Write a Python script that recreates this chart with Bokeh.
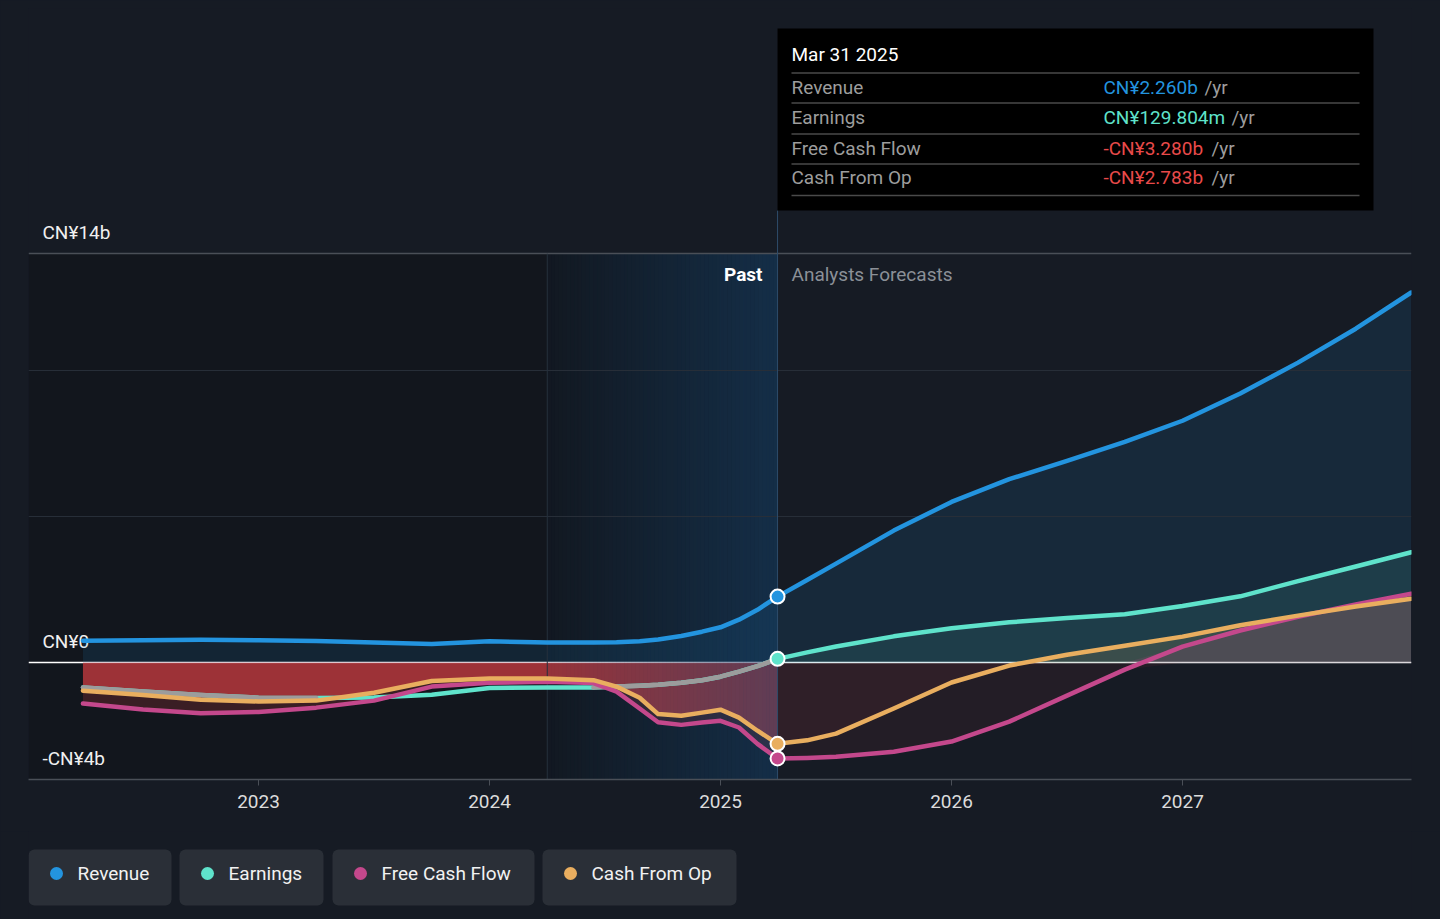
import numpy as np
from bokeh.plotting import figure
from bokeh.models import Range1d, FixedTicker, BoxAnnotation
from bokeh.layouts import column
from bokeh.embed import file_html
from bokeh.resources import INLINE
from bokeh.core.properties import value

# ---------------- data (CN¥ billions, x in decimal years) ----------------
X_PAST = [2022.24, 2022.5, 2022.75, 2023.0, 2023.25, 2023.5, 2023.75, 2024.0, 2024.25,
          2024.45, 2024.55, 2024.65, 2024.73, 2024.83, 2024.92, 2025.0, 2025.08, 2025.16, 2025.247]
REVENUE_PAST = [0.75, 0.77, 0.78, 0.77, 0.74, 0.69, 0.64, 0.73, 0.69,
                0.69, 0.70, 0.73, 0.79, 0.91, 1.06, 1.21, 1.47, 1.81, 2.26]
EARNINGS_PAST = [-0.85, -0.99, -1.11, -1.20, -1.21, -1.19, -1.10, -0.87, -0.85,
                 -0.85, -0.82, -0.79, -0.76, -0.69, -0.60, -0.48, -0.31, -0.12, 0.13]
FCF_PAST = [-1.40, -1.60, -1.73, -1.69, -1.54, -1.30, -0.82, -0.69, -0.65,
            -0.70, -0.99, -1.57, -2.04, -2.13, -2.05, -1.99, -2.22, -2.78, -3.28]
CFO_PAST = [-0.96, -1.11, -1.27, -1.33, -1.30, -1.03, -0.63, -0.54, -0.54,
            -0.60, -0.82, -1.20, -1.76, -1.82, -1.71, -1.61, -1.88, -2.33, -2.78]

X_FORECAST = [2025.247, 2025.375, 2025.5, 2025.75, 2026.0, 2026.25, 2026.5, 2026.75, 2027.0,
              2027.25, 2027.5, 2027.75, 2027.99]
REVENUE_FC = [2.26, 2.83, 3.39, 4.52, 5.50, 6.28, 6.91, 7.56, 8.28, 9.21, 10.27, 11.43, 12.67]
EARNINGS_FC = [0.13, 0.35, 0.55, 0.90, 1.18, 1.38, 1.53, 1.66, 1.94, 2.27, 2.79, 3.29, 3.78]
FCF_FC = [-3.28, -3.26, -3.22, -3.05, -2.70, -2.02, -1.13, -0.24, 0.55, 1.10, 1.57, 1.99, 2.36]
CFO_FC = [-2.78, -2.66, -2.43, -1.57, -0.68, -0.10, 0.27, 0.58, 0.89, 1.28, 1.61, 1.92, 2.19]

# spans where the earnings line is drawn grey
EARN_GREY_SPANS = [(2022.24, 2023.25), (2024.45, 2025.247)]

NOW = 2025.247
PAST_START = 2024.25

SERIES_NAMES = ["Revenue", "Earnings", "Free Cash Flow", "Cash From Op"]
SERIES_COLORS = ["#2394df", "#5fe3cb", "#c4488c", "#e9ae5f"]

TOOLTIP_DATE = "Mar 31 2025"
TOOLTIP_VALUES = ["CN¥2.260b", "CN¥129.804m", "-CN¥3.280b", "-CN¥2.783b"]
TOOLTIP_VALUE_COLORS = ["#2394df", "#5fe3cb", "#e84a4a", "#e84a4a"]

Y_TICKS = [14, 0, -4]
Y_TICK_LABELS = ["CN¥14b", "CN¥0", "-CN¥4b"]
Y_MINOR_GRID = [5, 10]
X_TICKS = [2023, 2024, 2025, 2026, 2027]

# ---------------- layout constants (page pixels) ----------------
BG = "#161b24"
PAGE_W, PAGE_H = 1440, 919
PX_PER_YEAR = 231.0
PX_PER_B = 29.214
FRAME_L, FRAME_R = 28, 1411
FRAME_TOP, FRAME_H = 8, 771
BOTTOM_BORDER = 52
MAIN_H = FRAME_TOP + FRAME_H + BOTTOM_BORDER
X_START = 2023 - (258 - FRAME_L) / PX_PER_YEAR
X_END = 2023 + (FRAME_R - 258) / PX_PER_YEAR
Y_MIN = -4.0
Y_END = Y_MIN + FRAME_H / PX_PER_B
FS = "19px"


def px_x(px):
    return X_START + (px - FRAME_L) / PX_PER_YEAR


def px_y(py):
    return Y_END - (py - FRAME_TOP) / PX_PER_B


FONT = value("Roboto")

p = figure(width=PAGE_W, height=MAIN_H, x_range=Range1d(X_START, X_END),
           y_range=Range1d(Y_MIN, Y_END), y_axis_location=None,
           min_border_left=FRAME_L, min_border_right=PAGE_W - FRAME_R,
           min_border_top=FRAME_TOP, min_border_bottom=BOTTOM_BORDER,
           toolbar_location=None, output_backend="svg",
           background_fill_color=BG, border_fill_color=BG)
p.outline_line_color = None
p.xgrid.visible = False
p.ygrid.visible = False

# x axis
ax = p.xaxis[0]
ax.ticker = FixedTicker(ticks=X_TICKS)
ax.axis_line_color = "#4a4f57"
ax.axis_line_width = 1.5
ax.major_tick_line_color = "#4a4f57"
ax.major_tick_out = 6
ax.major_tick_in = 0
ax.minor_tick_line_color = None
ax.major_label_text_font = "Roboto"
ax.major_label_text_font_size = FS
ax.major_label_text_color = "#dcdcdc"
ax.major_label_standoff = 9

# dark background for the past
p.quad(left=[X_START], right=[NOW], bottom=[Y_MIN], top=[Y_TICKS[0]],
       fill_color="#12161d", line_color=None)

# y tick labels (drawn inside the plot, above their lines)
p.text(x=[px_x(42)] * 3, y=[v + 21 / PX_PER_B for v in Y_TICKS], text=Y_TICK_LABELS,
       text_font=FONT, text_font_size=FS, text_color="#f0f0f0",
       text_align="left", text_baseline="middle")

p.hspan(y=[0], line_color="#ffffff", line_width=1.5)

xp = np.array(X_PAST)
xf = np.array(X_FORECAST)
rev_p, earn_p, fcf_p, cfo_p = map(np.array, (REVENUE_PAST, EARNINGS_PAST, FCF_PAST, CFO_PAST))
rev_f, earn_f, fcf_f, cfo_f = map(np.array, (REVENUE_FC, EARNINGS_FC, FCF_FC, CFO_FC))

# ---- area fills ----
p.varea(x=xp, y1=0, y2=np.maximum(rev_p, 0), fill_color=SERIES_COLORS[0], fill_alpha=0.12)
p.varea(x=xf, y1=0, y2=np.maximum(rev_f, 0), fill_color=SERIES_COLORS[0], fill_alpha=0.12)
p.varea(x=xf, y1=0, y2=np.maximum(earn_f, 0), fill_color=SERIES_COLORS[1], fill_alpha=0.11)
p.varea(x=xf, y1=0, y2=np.maximum(cfo_f, 0), fill_color=SERIES_COLORS[3], fill_alpha=0.14)
p.varea(x=xf, y1=0, y2=np.maximum(fcf_f, 0), fill_color=SERIES_COLORS[2], fill_alpha=0.14)
# negative (cash burn) fills
p.varea(x=xp, y1=0, y2=np.minimum(fcf_p, 0), fill_color="#b5373c", fill_alpha=0.25)
p.varea(x=xp, y1=0, y2=np.minimum(cfo_p, 0), fill_color="#c03a3e", fill_alpha=0.74)
p.varea(x=xf, y1=0, y2=np.minimum(fcf_f, 0), fill_color="#c03a3e", fill_alpha=0.08)
p.varea(x=xf, y1=0, y2=np.minimum(cfo_f, 0), fill_color="#c03a3e", fill_alpha=0.08)

# blue highlight over the last year of the past (gradient overlay)
N = 60
edges = np.linspace(PAST_START, NOW, N + 1)
alphas = [0.05 + 0.42 * ((i + 0.5) / N) for i in range(N)]
p.quad(left=edges[:-1], right=edges[1:] + 0.0004, bottom=[Y_MIN] * N, top=[Y_TICKS[0]] * N,
       fill_color="#184a78", fill_alpha=alphas, line_color=None)

# grid lines and markers of time
p.hspan(y=Y_MINOR_GRID, line_color="#272e38", line_width=1)
p.hspan(y=[Y_TICKS[0]], line_color="#4a4f57", line_width=1.5)
p.segment(x0=[PAST_START], x1=[PAST_START], y0=[Y_MIN], y1=[Y_TICKS[0]],
          line_color="#26313d", line_width=1)
p.segment(x0=[NOW], x1=[NOW], y0=[Y_MIN], y1=[px_y(210)],
          line_color="#2e4c6a", line_width=1)

# ---- lines ----
LW = 4.5
p.line(xp, earn_p, line_color=SERIES_COLORS[1], line_width=LW, line_cap="round", line_join="round")
for a, b in EARN_GREY_SPANS:
    m = (xp >= a - 1e-9) & (xp <= b + 1e-9)
    p.line(xp[m], earn_p[m], line_color="#9c9c9c", line_width=LW, line_cap="round", line_join="round")
p.line(xf, earn_f, line_color=SERIES_COLORS[1], line_width=LW, line_cap="round", line_join="round")
for xs, ys, c in ((xp, fcf_p, SERIES_COLORS[2]), (xf, fcf_f, SERIES_COLORS[2]),
                  (xp, cfo_p, SERIES_COLORS[3]), (xf, cfo_f, SERIES_COLORS[3]),
                  (xp, rev_p, SERIES_COLORS[0]), (xf, rev_f, SERIES_COLORS[0])):
    p.line(xs, ys, line_color=c, line_width=LW, line_cap="round", line_join="round")

# markers at the current point
p.scatter(x=[NOW] * 4, y=[rev_f[0], earn_f[0], cfo_f[0], fcf_f[0]],
          fill_color=[SERIES_COLORS[0], SERIES_COLORS[1], SERIES_COLORS[3], SERIES_COLORS[2]],
          line_color="white", line_width=2, size=14)

# Past / forecast labels
p.text(x=[px_x(762)], y=[px_y(274)], text=["Past"], text_font=FONT, text_font_size=FS,
       text_color="#ffffff", text_align="right", text_baseline="middle", text_font_style="bold")
p.text(x=[px_x(791)], y=[px_y(274)], text=["Analysts Forecasts"], text_font=FONT,
       text_font_size=FS, text_color="#8b9097", text_align="left", text_baseline="middle")

# ---- tooltip ----
p.quad(left=[NOW], right=[px_x(1373)], top=[px_y(28)], bottom=[px_y(210)],
       fill_color="#000000", line_color=None)
sep_y = [px_y(v) for v in (72.5, 102.5, 133.5, 163.5, 195)]
p.segment(x0=[px_x(791)] * 5, x1=[px_x(1359)] * 5, y0=sep_y, y1=sep_y,
          line_color="#4a4a4a", line_width=1.5)
p.text(x=[px_x(791)], y=[px_y(54)], text=[TOOLTIP_DATE], text_font=FONT, text_font_size=FS,
       text_color="#ffffff", text_align="left", text_baseline="middle")
row_y = [px_y(v) for v in (87, 117, 148, 177)]
p.text(x=[px_x(791)] * 4, y=row_y, text=SERIES_NAMES, text_font=FONT, text_font_size=FS,
       text_color="#9d9d9d", text_align="left", text_baseline="middle")
p.text(x=[px_x(1103)] * 4, y=row_y, text=TOOLTIP_VALUES, text_font=FONT, text_font_size=FS,
       text_color=TOOLTIP_VALUE_COLORS, text_align="left", text_baseline="middle")
p.text(x=[px_x(v) for v in (1204, 1231, 1211, 1211)], y=row_y, text=["/yr"] * 4,
       text_font=FONT, text_font_size=FS, text_color="#9d9d9d",
       text_align="left", text_baseline="middle")

# ---------------- legend (separate strip, page coordinates) ----------------
# the column layout aligns this frame with the main frame (page x FRAME_L..FRAME_R)
lg = figure(width=PAGE_W, height=PAGE_H - MAIN_H, x_range=Range1d(FRAME_L, FRAME_R),
            y_range=Range1d(PAGE_H, MAIN_H),
            x_axis_location=None, y_axis_location=None, min_border=0,
            min_border_left=FRAME_L, min_border_right=PAGE_W - FRAME_R,
            toolbar_location=None, output_backend="svg",
            background_fill_color=BG, border_fill_color=BG)
lg.outline_line_color = None
lg.grid.visible = False
BOX_L = [28, 179, 332, 542]
BOX_R = [171, 323, 534, 736]
for l, r in zip(BOX_L, BOX_R):
    lg.add_layout(BoxAnnotation(left=l, right=r, top=849, bottom=905, fill_color="#2a2f37",
                                fill_alpha=1.0, line_color=None, border_radius=6,
                                level="underlay"))
lg.scatter(x=[l + 28 for l in BOX_L], y=[873] * 4, size=13, fill_color=SERIES_COLORS,
           line_color=None)
lg.text(x=[l + 49 for l in BOX_L], y=[873] * 4, text=SERIES_NAMES, text_font=FONT,
        text_font_size=FS, text_color="#f2f2f2", text_align="left", text_baseline="middle")

layout = column(p, lg, spacing=0)
html = file_html(layout, INLINE, title="Revenue, earnings and cash flow")
html = html.replace("</head>",
                    "<style>html, body {margin:0 !important; padding:0; background:%s;}</style></head>" % BG, 1)
open("out.html", "w").write(html)
